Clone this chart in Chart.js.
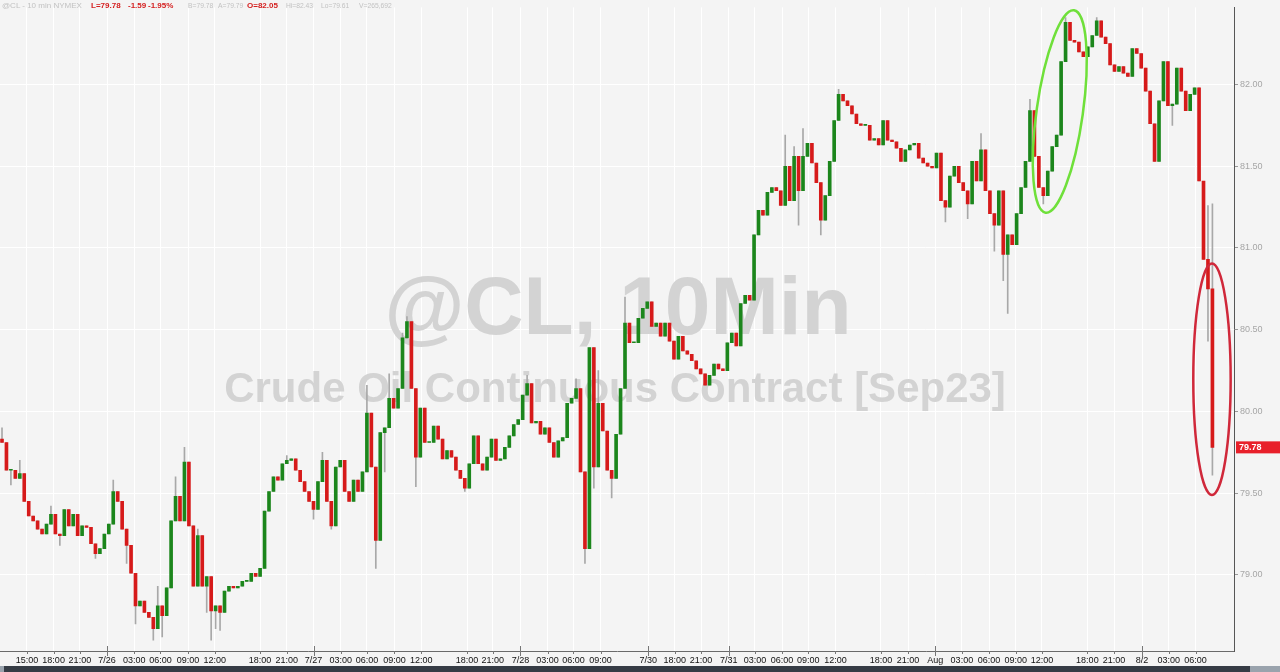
<!DOCTYPE html>
<html>
<head>
<meta charset="utf-8">
<title>@CL 10 min</title>
<script src="https://cdn.jsdelivr.net/npm/chart.js@4"></script>
<style>
  html, body { margin: 0; padding: 0; background: #f4f4f4; }
  #wrap { position: relative; width: 1280px; height: 672px; overflow: hidden; }
  #quote { position: absolute; left: 0; top: 0; width: 420px; height: 10px;
           font: 8px "Liberation Sans", Arial, sans-serif; color: #c2c2c2; white-space: nowrap; }
  #quote span { position: absolute; top: 1px; transform-origin: 0 0; }
  #quote .sq { transform: scaleX(0.84); }
  #quote .dn { color: #d42020; font-weight: bold; }
</style>
</head>
<body>
<div id="wrap">
  <canvas id="cl" width="1280" height="672"></canvas>
  <div id="quote">
    <span style="left:2px">@CL - 10 min NYMEX</span>
    <span class="dn" style="left:91px">L=79.78</span>
    <span class="dn" style="left:128px">-1.59</span>
    <span class="dn" style="left:148px">-1.95%</span>
    <span class="sq" style="left:188px">B=79.78</span>
    <span class="sq" style="left:218px">A=79.79</span>
    <span class="dn" style="left:247px">O=82.05</span>
    <span class="sq" style="left:286px">Hi=82.43</span>
    <span class="sq" style="left:321px">Lo=79.61</span>
    <span class="sq" style="left:359px">V=265,692</span>
  </div>
</div>
<script>
// 30-min candles, 7/25 12:00 -> 8/2 07:00
const tickLabels = ['15:00','18:00','21:00','7/26','03:00','06:00','09:00','12:00','18:00','21:00','7/27',
  '03:00','06:00','09:00','12:00','18:00','21:00','7/28','03:00','06:00','09:00','7/30','18:00','21:00',
  '7/31','03:00','06:00','09:00','12:00','18:00','21:00','Aug','03:00','06:00','09:00','12:00','18:00',
  '21:00','8/2','03:00','06:00'];
const tickPos = [5.6,11.6,17.5,23.6,29.7,35.6,41.8,47.8,58.0,64.0,70.0,76.1,82.0,88.2,94.2,104.5,110.3,
  116.5,122.6,128.4,134.5,145.2,151.2,157.1,163.3,169.2,175.3,181.2,187.3,197.5,203.6,209.7,215.7,
  221.8,227.8,233.7,243.9,249.9,256.2,262.2,268.2];
const priceTicks = [79, 79.5, 80, 80.5, 81, 81.5, 82];

const opens = [
  79.83,79.81,79.64,79.64,79.59,79.62,79.45,79.36,79.33,79.28,79.25,79.31,
  79.37,79.25,79.24,79.40,79.30,79.37,79.24,79.30,79.29,79.19,79.13,79.16,
  79.25,79.31,79.51,79.45,79.28,79.18,79.01,78.81,78.84,78.77,78.74,78.67,
  78.81,78.75,78.92,79.33,79.48,79.33,79.69,79.30,78.93,79.24,78.93,78.99,
  78.78,78.81,78.77,78.90,78.93,78.92,78.93,78.96,78.96,79.01,78.99,79.04,
  79.39,79.51,79.60,79.58,79.68,79.70,79.71,79.64,79.57,79.51,79.45,79.40,
  79.57,79.70,79.45,79.30,79.66,79.70,79.51,79.45,79.58,79.51,79.63,79.99,
  79.66,79.21,79.87,79.90,80.08,80.02,80.14,80.45,80.55,80.14,79.72,80.02,
  79.81,79.81,79.91,79.83,79.71,79.76,79.72,79.64,79.59,79.53,79.68,79.85,
  79.68,79.64,79.72,79.83,79.70,79.71,79.78,79.85,79.92,79.95,80.10,80.17,
  79.93,79.94,79.86,79.90,79.81,79.72,79.82,79.84,80.05,80.08,80.14,79.63,
  79.16,80.39,79.66,80.05,79.88,79.64,79.59,79.86,80.14,80.54,80.42,80.42,
  80.57,80.63,80.67,80.52,80.54,80.46,80.54,80.43,80.32,80.46,80.37,80.35,
  80.31,80.26,80.23,80.16,80.22,80.29,80.26,80.25,80.42,80.48,80.40,80.66,
  80.71,80.68,81.08,81.23,81.20,81.34,81.37,81.35,81.26,81.50,81.29,81.56,
  81.35,81.56,81.64,81.52,81.40,81.17,81.32,81.53,81.78,81.94,81.90,81.87,
  81.82,81.76,81.75,81.75,81.66,81.67,81.63,81.78,81.66,81.65,81.61,81.53,
  81.60,81.63,81.64,81.55,81.52,81.50,81.49,81.58,81.29,81.25,81.44,81.50,
  81.40,81.35,81.27,81.53,81.41,81.60,81.35,81.21,81.14,81.35,80.96,81.08,
  81.02,81.21,81.37,81.53,81.84,81.56,81.37,81.32,81.47,81.62,81.69,82.14,
  82.38,82.27,82.26,82.20,82.17,82.23,82.30,82.39,82.29,82.25,82.12,82.08,
  82.11,82.07,82.05,82.22,82.19,82.10,81.96,81.76,81.53,81.90,82.14,81.87,
  81.88,82.10,81.96,81.84,81.94,81.98,81.41,80.93,80.75
];
const closes = [
  79.81,79.64,79.64,79.59,79.62,79.45,79.36,79.33,79.28,79.25,79.31,79.37,
  79.25,79.24,79.40,79.30,79.37,79.24,79.30,79.29,79.19,79.13,79.16,79.25,
  79.31,79.51,79.45,79.28,79.18,79.01,78.81,78.84,78.77,78.74,78.67,78.81,
  78.75,78.92,79.33,79.48,79.33,79.69,79.30,78.93,79.24,78.93,78.99,78.78,
  78.81,78.77,78.90,78.93,78.92,78.93,78.96,78.96,79.01,78.99,79.04,79.39,
  79.51,79.60,79.58,79.68,79.70,79.71,79.64,79.57,79.51,79.45,79.40,79.57,
  79.70,79.45,79.30,79.66,79.70,79.51,79.45,79.58,79.51,79.63,79.99,79.66,
  79.21,79.87,79.90,80.08,80.02,80.14,80.45,80.55,80.14,79.72,80.02,79.81,
  79.81,79.91,79.83,79.71,79.76,79.72,79.64,79.59,79.53,79.68,79.85,79.68,
  79.64,79.72,79.83,79.70,79.71,79.78,79.85,79.92,79.95,80.10,80.17,79.93,
  79.94,79.86,79.90,79.81,79.72,79.82,79.84,80.05,80.08,80.14,79.63,79.16,
  80.39,79.66,80.05,79.88,79.64,79.59,79.86,80.14,80.54,80.42,80.42,80.57,
  80.63,80.67,80.52,80.54,80.46,80.54,80.43,80.32,80.46,80.37,80.35,80.31,
  80.26,80.23,80.16,80.22,80.29,80.26,80.25,80.42,80.48,80.40,80.66,80.71,
  80.68,81.08,81.23,81.20,81.34,81.37,81.35,81.26,81.50,81.29,81.56,81.35,
  81.56,81.64,81.52,81.40,81.17,81.32,81.53,81.78,81.94,81.90,81.87,81.82,
  81.76,81.75,81.75,81.66,81.67,81.63,81.78,81.66,81.65,81.61,81.53,81.60,
  81.63,81.64,81.55,81.52,81.50,81.49,81.58,81.29,81.25,81.44,81.50,81.40,
  81.35,81.27,81.53,81.41,81.60,81.35,81.21,81.14,81.35,80.96,81.08,81.02,
  81.21,81.37,81.53,81.84,81.56,81.37,81.32,81.47,81.62,81.69,82.14,82.38,
  82.27,82.26,82.20,82.17,82.23,82.30,82.39,82.29,82.25,82.12,82.08,82.11,
  82.07,82.05,82.22,82.19,82.10,81.96,81.76,81.53,81.90,82.14,81.87,81.88,
  82.10,81.96,81.84,81.94,81.98,81.41,80.93,80.75,79.78
];
// wicks that stick out past the body: [candle, price]
const highWicks = [[0,79.90],[4,79.70],[11,79.42],[25,79.58],[35,78.93],[39,79.60],[41,79.78],
  [44,79.28],[64,79.73],[72,79.75],[82,80.16],[87,80.23],[90,80.48],[91,80.58],[118,80.22],
  [129,80.20],[134,80.25],[140,80.70],[176,81.69],[178,81.62],[180,81.73],[188,81.97],[220,81.70],
  [231,81.91],[239,82.41],[246,82.41],[270,81.28],[271,81.26],[272,81.27]];
const lowWicks = [[2,79.55],[13,79.18],[21,79.10],[28,79.07],[30,78.70],[34,78.60],[36,78.62],
  [46,78.77],[47,78.60],[48,78.67],[49,78.66],[70,79.34],[74,79.28],[84,79.04],[86,79.63],
  [93,79.54],[104,79.51],[131,79.07],[133,79.53],[137,79.47],[179,81.14],[184,81.08],[212,81.16],
  [217,81.18],[223,80.98],[225,80.80],[226,80.60],[234,81.27],[263,81.75],[271,80.43],[272,79.61]];
const lastPrice = 79.78;

const UP = '#1c861c', DOWN = '#d61a1a', WICK = '#a8a8a8';
const FONT = '"Liberation Sans", Arial, sans-serif';

const hiMap = new Map(highWicks), loMap = new Map(lowWicks);
const bodyData = closes.map((c, i) => ({ x: i, y: [opens[i], c] }));
const wickData = closes.map((c, i) => ({
  x: i,
  y: [loMap.has(i) ? loMap.get(i) : Math.min(opens[i], c),
      hiMap.has(i) ? hiMap.get(i) : Math.max(opens[i], c)]
}));

// hand-drawn rings, in candle / price units
const rings = [
  { x: 237.7, y: 81.835, rx: 5.2, ry: 0.625, rot: 8, color: '#6fe03a' },
  { x: 271.9, y: 80.197, rx: 4.2, ry: 0.708, rot: 0, color: '#d0283a' }
];

const chartPaint = {
  id: 'chartPaint',
  beforeDraw(chart) {
    const c = chart.ctx;
    c.save();
    c.fillStyle = '#f4f4f4';
    c.fillRect(0, 0, chart.width, chart.height);
    c.restore();
  },
  beforeDatasetsDraw(chart) {
    const c = chart.ctx;
    c.save();
    c.fillStyle = '#d3d3d3';
    c.textAlign = 'center';
    c.textBaseline = 'alphabetic';
    c.font = 'bold 82px ' + FONT;
    c.fillText('@CL, 10Min', 618, 334);
    c.font = 'bold 42px ' + FONT;
    c.fillText('Crude Oil Continuous Contract [Sep23]', 615, 402);
    c.restore();
  },
  afterDatasetsDraw(chart) {
    const c = chart.ctx, xs = chart.scales.x, ys = chart.scales.y;
    c.save();
    c.lineWidth = 2.5;
    rings.forEach(r => {
      const cx = xs.getPixelForValue(r.x), cy = ys.getPixelForValue(r.y);
      const rx = Math.abs(xs.getPixelForValue(r.x + r.rx) - cx);
      const ry = Math.abs(ys.getPixelForValue(r.y + r.ry) - cy);
      c.strokeStyle = r.color;
      c.beginPath();
      c.ellipse(cx, cy, rx, ry, r.rot * Math.PI / 180, 0, Math.PI * 2);
      c.stroke();
    });
    c.restore();
  },
  afterDraw(chart) {
    const c = chart.ctx, xs = chart.scales.x, ys = chart.scales.y, a = chart.chartArea;
    c.save();
    // x tick marks, date ticks longer
    c.strokeStyle = '#777';
    c.lineWidth = 1;
    tickPos.forEach((p, i) => {
      const x = Math.round(xs.getPixelForValue(p)) + 0.5;
      const isDate = /\/|Aug/.test(tickLabels[i]);
      c.beginPath();
      c.moveTo(x, a.bottom - (isDate ? 5 : 0));
      c.lineTo(x, a.bottom + (isDate ? 5 : 3));
      c.stroke();
    });
    // last price tag
    const py = ys.getPixelForValue(lastPrice);
    c.fillStyle = '#e8202a';
    c.fillRect(a.right + 2, py - 6, chart.width - a.right - 2, 12);
    c.fillStyle = '#ffffff';
    c.font = 'bold 9px ' + FONT;
    c.textBaseline = 'middle';
    c.textAlign = 'left';
    c.fillText(lastPrice.toFixed(2), a.right + 5, py + 0.5);
    // scrollbar strip
    c.fillStyle = '#363c45';
    c.fillRect(0, chart.height - 6, chart.width, 6);
    c.fillStyle = '#9aa3ad';
    c.fillRect(chart.width - 30, chart.height - 6, 30, 6);
    c.fillRect(0, chart.height - 6, 4, 6);
    c.restore();
  }
};

new Chart(document.getElementById('cl'), {
  type: 'bar',
  data: {
    datasets: [
      { label: 'body', data: bodyData, order: 1, grouped: false, barThickness: 3, minBarLength: 1,
        backgroundColor: ctx => closes[ctx.dataIndex] >= opens[ctx.dataIndex] ? UP : DOWN },
      { label: 'wick', data: wickData, order: 2, grouped: false, barThickness: 1,
        backgroundColor: WICK }
    ]
  },
  options: {
    responsive: false,
    animation: false,
    devicePixelRatio: 1,
    layout: { padding: 0 },
    plugins: { legend: { display: false }, tooltip: { enabled: false } },
    scales: {
      x: {
        type: 'linear', min: -0.45, max: 276.85, offset: false,
        afterBuildTicks: s => { s.ticks = tickPos.map(v => ({ value: v })); },
        afterFit: s => { s.height = 21; },
        grid: { color: '#ffffff', drawTicks: false, offset: false },
        border: { color: '#6a6a6a' },
        ticks: { autoSkip: false, maxRotation: 0, padding: 4, color: '#111111',
                 font: { family: FONT, size: 9 },
                 callback: (v, i) => tickLabels[i] }
      },
      y: {
        type: 'linear', position: 'right', min: 78.534, max: 82.472,
        afterBuildTicks: s => { s.ticks = priceTicks.map(v => ({ value: v })); },
        afterFit: s => { s.width = 46; },
        grid: { color: '#ffffff', tickLength: 4, tickColor: '#999' },
        border: { color: '#555' },
        ticks: { padding: 2, color: '#a6a6a6', font: { family: FONT, size: 9 },
                 callback: v => Number(v).toFixed(2) }
      }
    }
  },
  plugins: [chartPaint]
});
</script>
</body>
</html>
